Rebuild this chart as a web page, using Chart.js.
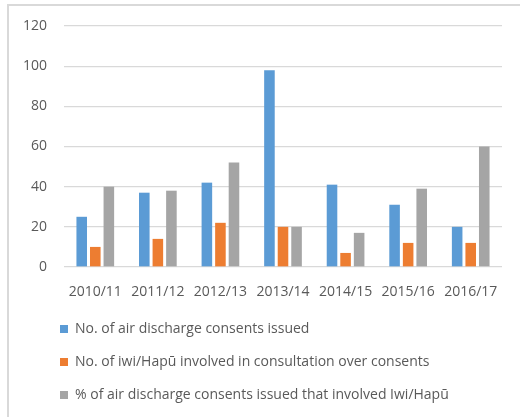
<!DOCTYPE html>
<html>
<head>
<meta charset="utf-8">
<script src="https://cdn.jsdelivr.net/npm/chart.js@4.4.1/dist/chart.umd.min.js"></script>
<style>
  html, body { margin: 0; padding: 0; background: #fff; overflow: hidden; }
  #frame { position: absolute; left: 7px; top: 4px; width: 700px; height: 700px; border: 2px solid #D9D9D9; }
  #wrap { position: absolute; left: 0; top: 0; width: 520px; height: 417px; }
</style>
</head>
<body>
<div id="frame"></div>
<div id="wrap"><canvas id="chart"></canvas></div>
<script>
/* Consentimientos de descarga al aire — barras agrupadas */

const FONT = '"Open Sans", "DejaVu Sans", sans-serif';
const TEXT = '#595959';
const GRID = '#D9D9D9';

const categories = ['2010/11', '2011/12', '2012/13', '2013/14', '2014/15', '2015/16', '2016/17'];
const seriesNames = [
  'No. of air discharge consents issued',
  'No. of iwi/Hapū involved in consultation over consents',
  '% of air discharge consents issued that involved Iwi/Hapū',
];
const consentsIssued = [25, 37, 42, 98, 41, 31, 20];
const iwiInvolved = [10, 14, 22, 20, 7, 12, 12];
const pctInvolved = [40, 38, 52, 20, 17, 39, 60];
const yTicks = [0, 20, 40, 60, 80, 100, 120];

const colors = ['#5B9BD5', '#ED7D31', '#A5A5A5'];

function barSet(label, data, color) {
  return {
    label,
    data,
    backgroundColor: color,
    borderWidth: 0,
    categoryPercentage: 0.65,
    barPercentage: 0.78,
  };
}

// la leyenda arranca alineada con las barras, no con el borde del lienzo
const legendIndent = {
  id: 'legendIndent',
  afterLayout(chart) {
    if (chart.legend) chart.legend.left = 41;
  },
};

new Chart(document.getElementById('chart'), {
  type: 'bar',
  data: {
    labels: categories,
    datasets: [
      barSet(seriesNames[0], consentsIssued, colors[0]),
      barSet(seriesNames[1], iwiInvolved, colors[1]),
      barSet(seriesNames[2], pctInvolved, colors[2]),
    ],
  },
  plugins: [legendIndent],
  options: {
    responsive: true,
    maintainAspectRatio: false,
    animation: false,
    layout: { padding: { left: 0, right: 18, top: 26, bottom: 5 } },
    plugins: {
      tooltip: { enabled: false },
      legend: {
        position: 'bottom',
        align: 'start',
        labels: {
          font: { family: FONT, size: 14 },
          color: TEXT,
          boxWidth: 8,
          boxHeight: 8,
          padding: 19,
        },
      },
    },
    scales: {
      x: {
        grid: { display: false, drawTicks: false },
        border: { display: false },
        ticks: { font: { family: FONT, size: 14 }, color: TEXT, padding: 17, maxRotation: 0, autoSkip: false },
        afterFit(scale) { scale.height = 36; },
      },
      y: {
        min: 0,
        max: 120,
        afterBuildTicks(scale) { scale.ticks = yTicks.map(v => ({ value: v })); },
        grid: { color: GRID, lineWidth: 1.3, drawTicks: false },
        border: { display: false },
        ticks: { font: { family: FONT, size: 14 }, color: TEXT, padding: 17 },
        afterFit(scale) { scale.width = 64; },
      },
    },
  },
});
</script>
</body>
</html>
